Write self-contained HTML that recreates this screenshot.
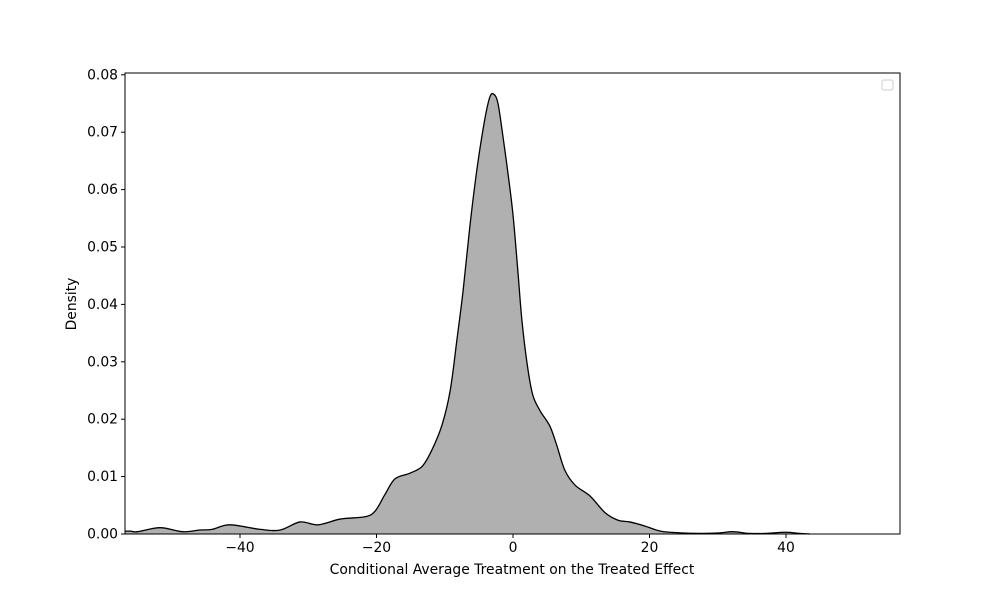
<!DOCTYPE html>
<html><head><meta charset="utf-8"><style>
body{margin:0;background:#fff}
svg text{font-family:"DejaVu Sans","Liberation Sans",sans-serif;font-size:13.9px;fill:#000}
</style></head><body>
<svg id="chart" width="1000" height="600">
<g id="plot"></g>
</svg>
<script>
const xs=[-56.8,-56,-55,-51.7,-48.4,-45.9,-44.1,-41.5,-37,-34.1,-31.2,-28.6,-25.3,-21.7,-20.2,-18.8,-17.3,-15.1,-13.3,-11.9,-10.4,-9.2,-8.2,-7.3,-6.3,-5.3,-4.2,-3.4,-2.8,-2.2,-1.5,-0.7,0,0.7,1.3,2.1,2.9,4.0,5.4,6.4,7.6,9.1,11.3,13.5,15.4,17.1,19.3,21.6,24.5,27.4,30.3,32.2,34.7,36.9,39.9,42,43.5];
const density=[0.0005,0.0005,0.0004,0.0011,0.0004,0.0007,0.0008,0.0016,0.0008,0.0007,0.0021,0.0016,0.0026,0.003,0.004,0.0068,0.0096,0.0106,0.0118,0.0146,0.019,0.025,0.034,0.0425,0.0538,0.0634,0.0718,0.0761,0.0766,0.075,0.0695,0.0625,0.0556,0.046,0.0373,0.0294,0.0242,0.0214,0.0188,0.0155,0.0111,0.0085,0.0066,0.0037,0.0024,0.0021,0.0014,0.0005,0.0002,0.0001,0.0002,0.0004,0.0001,0.0001,0.0003,0.0001,0];
const xTicks=[-40,-20,0,20,40];
const yTicks=[0,0.01,0.02,0.03,0.04,0.05,0.06,0.07,0.08];
const L=125,R=900,T=73,B=534,x0=513,pxPerX=6.825,pxPerY=5740;
const X=v=>x0+v*pxPerX, Y=v=>B-v*pxPerY;
const NS="http://www.w3.org/2000/svg", g=document.getElementById('plot');
function mk(t,a){const e=document.createElementNS(NS,t);for(const k in a)e.setAttribute(k,a[k]);g.appendChild(e);return e;}
const P=xs.map((x,i)=>[X(x),Y(density[i])]);
let d=`M${P[0][0]},${P[0][1]}`;
for(let i=0;i<P.length-1;i++){const p0=P[Math.max(0,i-1)],p1=P[i],p2=P[i+1],p3=P[Math.min(P.length-1,i+2)];
d+=` C${p1[0]+(p2[0]-p0[0])/6},${p1[1]+(p2[1]-p0[1])/6} ${p2[0]-(p3[0]-p1[0])/6},${p2[1]-(p3[1]-p1[1])/6} ${p2[0]},${p2[1]}`;}
const area=mk('path',{d:d+` L${P[P.length-1][0]},${B} L${P[0][0]},${B} Z`,fill:'#b0b0b0',stroke:'none'});


const line=mk('path',{d:d,fill:'none',stroke:'#000','stroke-width':1.3});


const frame=mk('rect',{x:L,y:T,width:R-L,height:B-T,fill:'none',stroke:'#000','stroke-width':1});


xTicks.forEach(v=>{const t=mk('line',{x1:X(v),x2:X(v),y1:B,y2:B+4,stroke:'#000'});


const l=mk('text',{x:X(v),y:B+18,'text-anchor':'middle'});l.textContent=v<0?'\u2212'+(-v):v;

});
yTicks.forEach(v=>{const t=mk('line',{x1:L-4,x2:L,y1:Y(v),y2:Y(v),stroke:'#000'});


const l=mk('text',{x:L-7,y:Y(v)+4.5,'text-anchor':'end'});l.textContent=v.toFixed(2);

});
const xt=mk('text',{x:512,y:574,'text-anchor':'middle'});xt.textContent='Conditional Average Treatment on the Treated Effect';


const yt=mk('text',{x:76,y:304,'text-anchor':'middle',transform:'rotate(-90 76 304)'});yt.textContent='Density';


const lg=mk('rect',{x:882,y:80,width:11,height:10,rx:2,fill:'#fff',stroke:'#ccc'});


</script>
</body></html>
